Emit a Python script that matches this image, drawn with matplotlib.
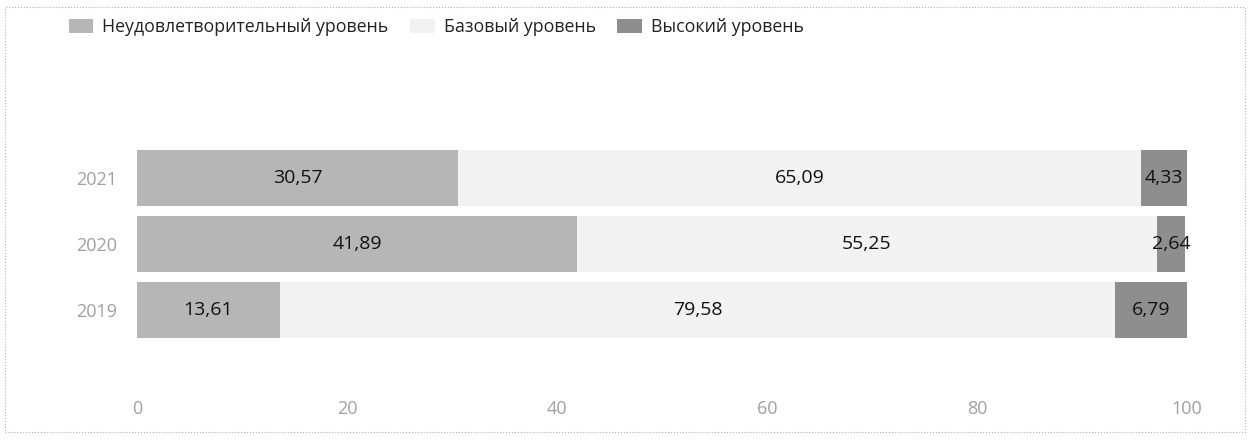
import matplotlib
matplotlib.use("Agg")
import matplotlib.pyplot as plt
from matplotlib.patches import Rectangle

plt.rcParams['font.family'] = ['Open Sans', 'DejaVu Sans']

years = ["2019", "2020", "2021"]
series_names = ["Неудовлетворительный уровень", "Базовый уровень", "Высокий уровень"]
low = [13.61, 41.89, 30.57]
base = [79.58, 55.25, 65.09]
high = [6.79, 2.64, 4.33]
labels_low = ["13,61", "41,89", "30,57"]
labels_base = ["79,58", "55,25", "65,09"]
labels_high = ["6,79", "2,64", "4,33"]
xticks = [0, 20, 40, 60, 80, 100]

colors = ["#b6b6b6", "#f2f2f2", "#8e8e8e"]

fig = plt.figure(figsize=(12.5, 4.41), dpi=100)
ax = fig.add_axes([137/1250, 1-385/441, 1050/1250, 255/441])

ypos = list(range(len(years)))
h = 0.86
left = [0]*3
for vals, labs, c, name in zip([low, base, high], [labels_low, labels_base, labels_high], colors, series_names):
    bars = ax.barh(ypos, vals, left=left, height=h, color=c, label=name, edgecolor='none')
    for b, lab in zip(bars, labs):
        ax.text(b.get_x() + b.get_width()/2, b.get_y() + b.get_height()/2, lab,
                ha='center', va='center', fontsize=14, color='#111111')
    left = [l + v for l, v in zip(left, vals)]

ax.set_xlim(0, 100)
ax.set_ylim(-1.136, 2.727)
ax.set_yticks(ypos)
ax.set_yticklabels(years)
ax.set_xticks(xticks)
ax.set_xticklabels([str(t) for t in xticks])
ax.tick_params(axis='both', length=0, colors='#a0a0a0', labelsize=13)
ax.tick_params(axis='x', pad=11)
ax.tick_params(axis='y', pad=14)
for s in ax.spines.values():
    s.set_visible(False)

leg = fig.legend(loc='upper left', bbox_to_anchor=(0.042, 0.995), ncol=3, frameon=False,
                 fontsize=12.8, handlelength=1.4, handleheight=0.8, columnspacing=1.2,
                 handletextpad=0.5)
for t in leg.get_texts():
    t.set_color('#222222')

fig.patches.append(Rectangle((5/1250, 1-432/441), 1240/1250, 425/441, transform=fig.transFigure,
                             fill=False, edgecolor='#b0b0b0', linestyle=':', linewidth=0.8))

fig.savefig("out.png", dpi=100)
